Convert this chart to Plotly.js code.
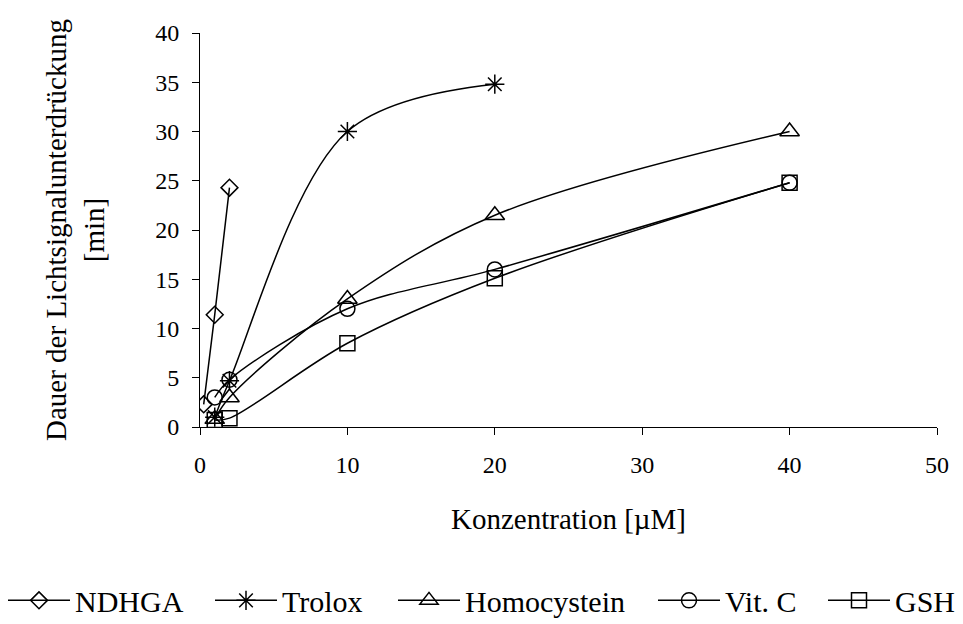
<!DOCTYPE html>
<html>
<head>
<meta charset="utf-8">
<script src="https://cdn.plot.ly/plotly-3.0.1.min.js"></script>
<style>
  html, body { margin: 0; padding: 0; background: #fff; overflow: hidden; }
  #chart { width: 963px; height: 624px; }
</style>
</head>
<body>
<div id="chart"></div>
<script>
// Konzentrationen [µM] und Dauer der Lichtsignalunterdrückung [min]
const ndhgaX = [0.25, 1, 2];
const ndhgaY = [2.3, 11.4, 24.3];

const troloxX = [1, 2, 10, 20];
const troloxY = [1.0, 4.7, 30.0, 34.8];

const homocysteinX = [1, 2, 10, 20, 40];
const homocysteinY = [0.8, 3.0, 13.0, 21.5, 30.0];

const vitCX = [1, 2, 10, 20, 40];
const vitCY = [3.0, 4.8, 12.0, 16.0, 24.8];

const gshX = [1, 2, 10, 20, 40];
const gshY = [0.7, 0.9, 8.5, 15.1, 24.8];

const seriesNames = ['NDHGA', 'Trolox', 'Homocystein', 'Vit. C', 'GSH'];
const xTickVals = [0, 10, 20, 30, 40, 50];
const yTickVals = [0, 5, 10, 15, 20, 25, 30, 35, 40];

const FONT = 'Liberation Serif';

function series(x, y, name, symbol, size, legendId) {
  return {
    x: x, y: y, name: name,
    type: 'scatter', mode: 'lines+markers',
    line: { color: '#000', width: 1.5, shape: 'spline', smoothing: 1 },
    marker: { symbol: symbol, size: size, color: '#000',
              line: { color: '#000', width: 1.5 } },
    legend: legendId,
    hoverinfo: 'skip'
  };
}

const data = [
  series(ndhgaX, ndhgaY, seriesNames[0], 'diamond-open', 13, 'legend'),
  series(troloxX, troloxY, seriesNames[1], 'asterisk-open', 16, 'legend2'),
  series(homocysteinX, homocysteinY, seriesNames[2], 'triangle-up-open', 17, 'legend3'),
  series(vitCX, vitCY, seriesNames[3], 'circle-open', 15, 'legend4'),
  series(gshX, gshY, seriesNames[4], 'square-open', 15, 'legend5')
];

// one legend per entry so each can sit at its own place on the bottom row
const plotLeft = 200, plotWidth = 737;
const legendStarts = [3, 210, 393, 653, 823];
function legendAt(px) {
  return {
    x: (px - plotLeft) / plotWidth, xanchor: 'left',
    y: -0.44, yanchor: 'middle',
    orientation: 'h',
    bgcolor: 'rgba(0,0,0,0)',
    borderwidth: 0,
    itemwidth: 62,
    font: { family: FONT, size: 30, color: '#000' }
  };
}

const layout = {
  width: 963, height: 624,
  margin: { l: 200, r: 26, t: 33, b: 197, autoexpand: false },
  paper_bgcolor: '#fff', plot_bgcolor: '#fff',
  font: { family: FONT, color: '#000' },
  showlegend: true,
  legend: legendAt(legendStarts[0]),
  legend2: legendAt(legendStarts[1]),
  legend3: legendAt(legendStarts[2]),
  legend4: legendAt(legendStarts[3]),
  legend5: legendAt(legendStarts[4]),
  xaxis: {
    range: [0, 50], tickvals: xTickVals, ticktext: xTickVals.map(String),
    showgrid: false, zeroline: false,
    showline: true, linecolor: '#000', linewidth: 1,
    ticks: 'outside', ticklen: 7, tickcolor: '#000', tickwidth: 1,
    ticklabelstandoff: 9,
    tickfont: { family: FONT, size: 24, color: '#000' },
    title: { text: 'Konzentration [µM]', standoff: 31,
             font: { family: FONT, size: 29, color: '#000' } },
    automargin: false, fixedrange: true
  },
  yaxis: {
    range: [0, 40], tickvals: yTickVals, ticktext: yTickVals.map(String),
    showgrid: false, zeroline: false,
    showline: true, linecolor: '#000', linewidth: 1,
    ticks: 'outside', ticklen: 7, tickcolor: '#000', tickwidth: 1,
    ticklabelstandoff: 8,
    tickfont: { family: FONT, size: 24, color: '#000' },
    title: { text: 'Dauer der Lichtsignalunterdrückung<br>[min]', standoff: 42,
             font: { family: FONT, size: 29, color: '#000' } },
    automargin: false, fixedrange: true
  }
};

Plotly.newPlot('chart', data, layout, { displayModeBar: false, staticPlot: true });
</script>
</body>
</html>
